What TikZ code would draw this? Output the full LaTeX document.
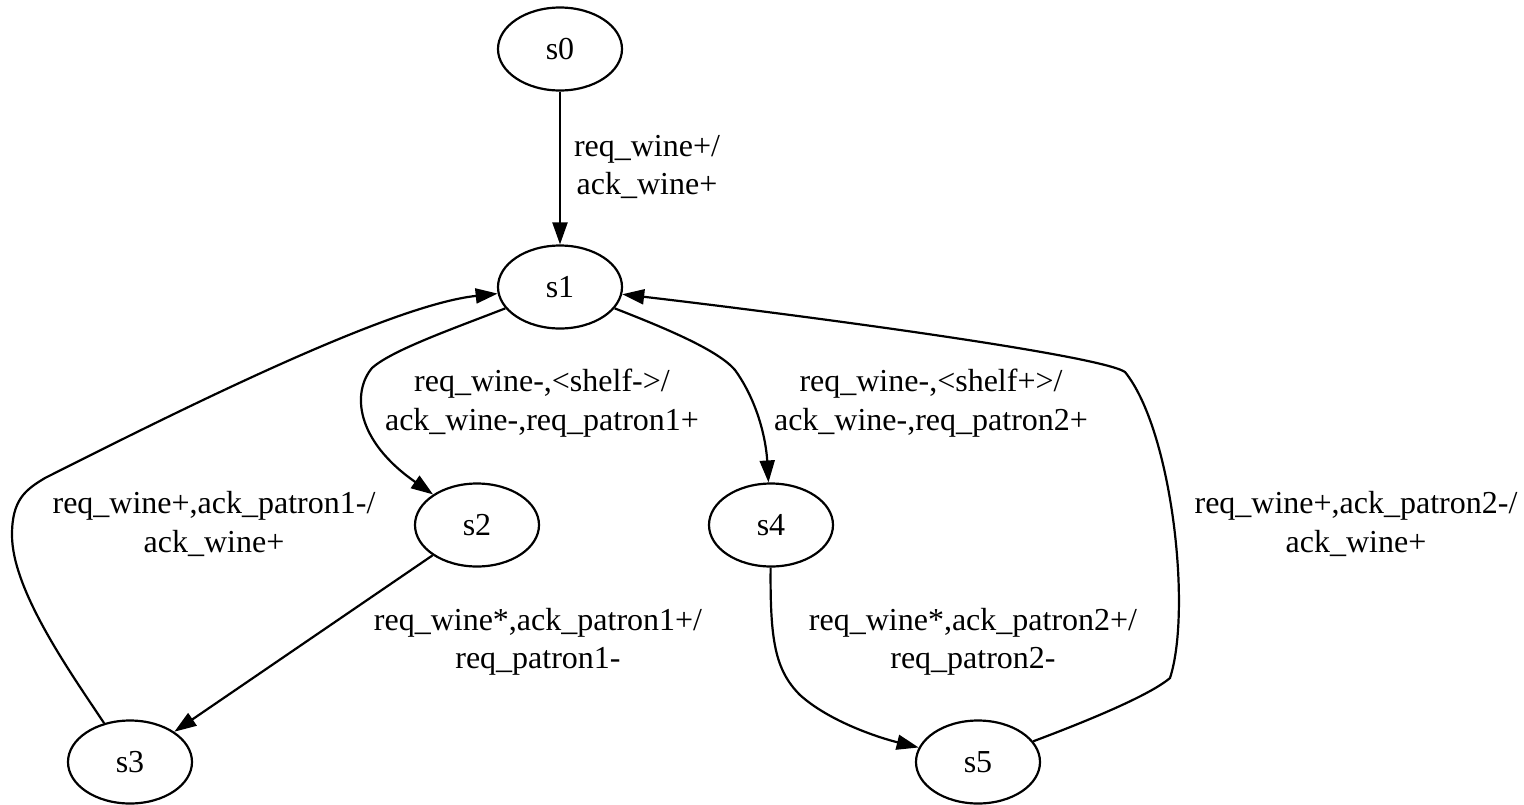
\documentclass[tikz,border=0pt]{standalone}
\usepackage{fontspec}
\setmainfont{Liberation Serif}
\usetikzlibrary{arrows.meta,shapes.geometric}
\tikzset{
  state/.style={draw, ellipse, line width=2.2pt, minimum width=124pt, minimum height=83pt, inner sep=0pt},
  trans/.style={line width=2.2pt, -{Triangle[length=22pt,width=15pt]}},
  lbl/.style={align=center, inner sep=0pt}
}
\begin{document}
\begin{tikzpicture}[x=1pt, y=-1pt, font=\fontsize{32}{38.4}\selectfont]
\useasboundingbox (0,0) rectangle (1524,804);

% states
\node[state] (s0) at (560,49)  {s0};
\node[state] (s1) at (560,287) {s1};
\node[state] (s2) at (477,525) {s2};
\node[state] (s4) at (771,525) {s4};
\node[state] (s3) at (130,762) {s3};
\node[state] (s5) at (978,762) {s5};

% transitions
\draw[trans] (s0) -- (s1);
\draw[trans] (s1) .. controls (455,328) and (392,350) .. (372,368)
                  .. controls (352,392) and (355,440) .. (s2);
\draw[trans] (s1) .. controls (665,328) and (718,350) .. (735,370)
                  .. controls (758,402) and (766,440) .. (s4);
\draw[trans] (s2) -- (s3);
\draw[trans] (s4) .. controls (770,640) and (775,670) .. (800,695)
                  .. controls (830,722) and (880,738) .. (s5);
\draw[trans] (s3) .. controls (70,672) and (12,590) .. (12,535)
                  .. controls (12,500) and (25,490) .. (45,478)
                  .. controls (180,410) and (390,305) .. (s1);
\draw[trans] (s5) .. controls (1090,720) and (1150,695) .. (1170,678)
                  .. controls (1192,610) and (1172,430) .. (1125,372)
                  .. controls (1100,355) and (800,315) .. (s1);

% transition labels
\node[lbl] (l01) at (647,167) {req\_wine+/\\ack\_wine+};
\node[lbl] (l12) at (542,403) {req\_wine-,<shelf->/\\ack\_wine-,req\_patron1+};
\node[lbl] (l14) at (931,403) {req\_wine-,<shelf+>/\\ack\_wine-,req\_patron2+};
\node[lbl] (l23) at (538,642) {req\_wine*,ack\_patron1+/\\req\_patron1-};
\node[lbl] (l45) at (973,642) {req\_wine*,ack\_patron2+/\\req\_patron2-};
\node[lbl] (l31) at (214,524) {req\_wine+,ack\_patron1-/\\ack\_wine+};
\node[lbl] (l51) at (1356,524) {req\_wine+,ack\_patron2-/\\ack\_wine+};
\end{tikzpicture}
\end{document}
